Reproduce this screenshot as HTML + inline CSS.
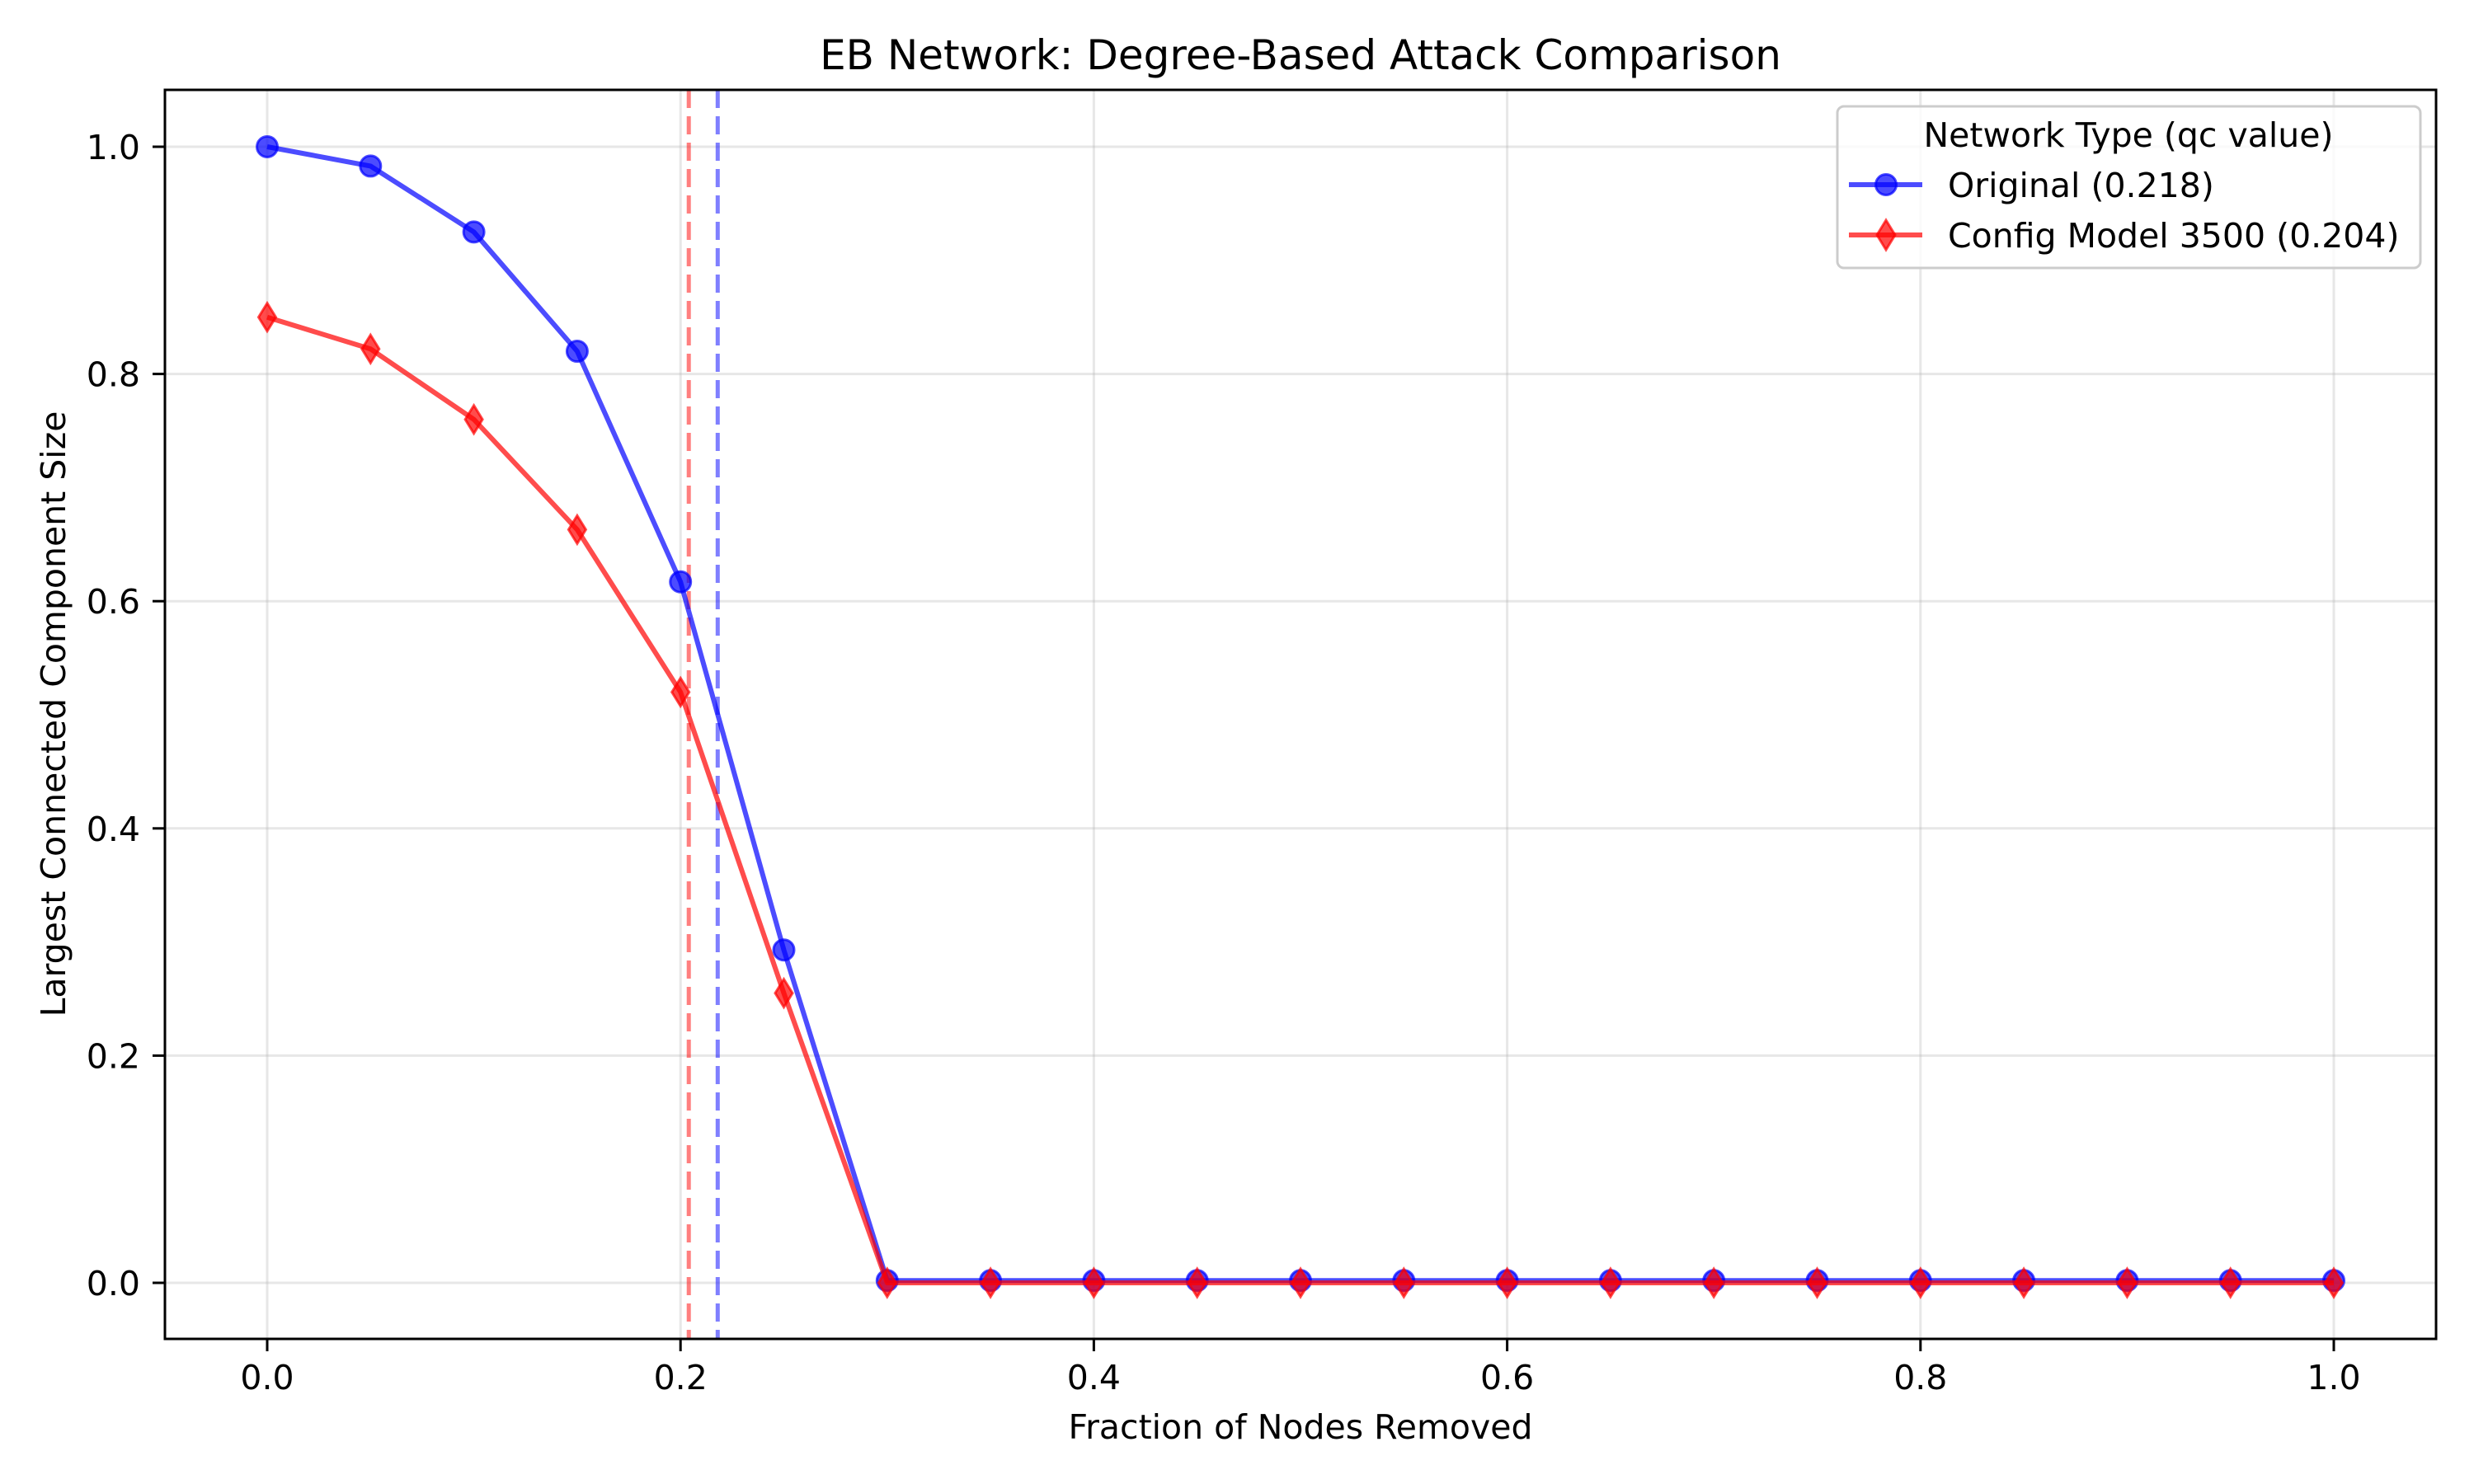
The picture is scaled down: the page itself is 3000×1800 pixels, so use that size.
<!DOCTYPE html>
<html><head><meta charset="utf-8">
<style>
html,body{margin:0;padding:0;background:#fff;}
svg{display:block;font-family:"DejaVu Sans","Liberation Sans",sans-serif;}
</style></head>
<body>
<svg id="chart" width="3000" height="1800" viewBox="0 0 3000 1800" xmlns="http://www.w3.org/2000/svg">
<rect width="3000" height="1800" fill="#fff"/>
<g id="grid"></g>
<g id="vlines"></g>
<g id="series"></g>
<rect x="200" y="109" width="2754" height="1515" fill="none" stroke="#000" stroke-width="3"/>
<g id="ticks"></g>
<text x="1577" y="84" font-size="50" text-anchor="middle">EB Network: Degree-Based Attack Comparison</text>
<text x="1577" y="1745" font-size="41" text-anchor="middle">Fraction of Nodes Removed</text>
<text x="0" y="0" font-size="41" text-anchor="middle" transform="translate(79,866) rotate(-90)">Largest Connected Component Size</text>
<g id="legend">
<rect x="2228" y="129" width="707" height="196" rx="8" fill="#fff" fill-opacity="0.8" stroke="#ccc" stroke-width="3"/>
<text x="2581" y="178" font-size="41" text-anchor="middle">Network Type (qc value)</text>
<g>
<line x1="2242" y1="224" x2="2331" y2="224" stroke="#0000ff" stroke-opacity="0.7" stroke-width="6"/>
<circle cx="2287" cy="224" r="12.5" fill="#0000ff" fill-opacity="0.7" stroke="#0000ff" stroke-opacity="0.7" stroke-width="3"/>
<text x="2362" y="239" font-size="41">Original (0.218)</text>
</g>
<g>
<line x1="2242" y1="285" x2="2331" y2="285" stroke="#ff0000" stroke-opacity="0.7" stroke-width="6"/>
<polygon points="2287,267 2298,285 2287,303 2276,285" fill="#ff0000" fill-opacity="0.7" stroke="#ff0000" stroke-opacity="0.7" stroke-width="3"/>
<text x="2362" y="300" font-size="41">Config Model 3500 (0.204)</text>
</g>
</g>
</svg>
<script>
const xValues = [0,0.05,0.1,0.15,0.2,0.25,0.3,0.35,0.4,0.45,0.5,0.55,0.6,0.65,0.7,0.75,0.8,0.85,0.9,0.95,1.0];
const originalValues = [1.0,0.983,0.925,0.82,0.617,0.293,0.002,0.002,0.002,0.002,0.002,0.002,0.002,0.002,0.002,0.002,0.002,0.002,0.002,0.002,0.002];
const configValues = [0.85,0.822,0.76,0.663,0.52,0.255,0,0,0,0,0,0,0,0,0,0,0,0,0,0,0];
const qcValues = [0.218,0.204];
const xTicks = [0,0.2,0.4,0.6,0.8,1.0];
const xTickLabels = ["0.0","0.2","0.4","0.6","0.8","1.0"];
const yTicks = [0,0.2,0.4,0.6,0.8,1.0];
const yTickLabels = ["0.0","0.2","0.4","0.6","0.8","1.0"];

const NS="http://www.w3.org/2000/svg";
function X(v){return 324+v*2506;}
function Y(v){return 1556-v*1378;}
function mk(tag,attrs,parent){const e=document.createElementNS(NS,tag);for(const k in attrs)e.setAttribute(k,attrs[k]);parent.appendChild(e);return e;}
const grid=document.getElementById('grid'),ticks=document.getElementById('ticks'),series=document.getElementById('series'),vl=document.getElementById('vlines');
xTicks.forEach((t,i)=>{
  const g=mk('line',{x1:X(t),x2:X(t),y1:109,y2:1624,stroke:'#b0b0b0','stroke-opacity':0.3,'stroke-width':3},grid);
  
  
  const tk=mk('line',{x1:X(t),x2:X(t),y1:1624,y2:1639,stroke:'#000','stroke-width':3},ticks);
  
  
  const tx=mk('text',{x:X(t),y:1685,'font-size':41,'text-anchor':'middle'},ticks);
  tx.textContent=xTickLabels[i];
  
  
});
yTicks.forEach((t,i)=>{
  const g=mk('line',{x1:200,x2:2954,y1:Y(t),y2:Y(t),stroke:'#b0b0b0','stroke-opacity':0.3,'stroke-width':3},grid);
  
  
  const tk=mk('line',{x1:185,x2:200,y1:Y(t),y2:Y(t),stroke:'#000','stroke-width':3},ticks);
  
  
  const tx=mk('text',{x:170,y:Y(t)+15,'font-size':41,'text-anchor':'end'},ticks);
  tx.textContent=yTickLabels[i];
  
  
});
const qcColors=['#0000ff','#ff0000'];
qcValues.forEach((q,i)=>{
  const l=mk('line',{x1:X(q),x2:X(q),y1:109,y2:1624,stroke:qcColors[i],'stroke-opacity':0.5,'stroke-width':5,'stroke-dasharray':'22 10'},vl);
  
  
});
function drawSeries(vals,color,shape,name){
  const pts=vals.map((v,i)=>X(xValues[i])+','+Y(v)).join(' ');
  const pl=mk('polyline',{points:pts,fill:'none',stroke:color,'stroke-opacity':0.7,'stroke-width':6,'stroke-linejoin':'round'},series);
  
  
  vals.forEach((v,i)=>{
    const cx=X(xValues[i]),cy=Y(v);
    let m;
    if(shape==='circle') m=mk('circle',{cx:cx,cy:cy,r:12.5,fill:color,'fill-opacity':0.7,stroke:color,'stroke-opacity':0.7,'stroke-width':3},series);
    else m=mk('polygon',{points:`${cx},${cy-17} ${cx+10.5},${cy} ${cx},${cy+17} ${cx-10.5},${cy}`,fill:color,'fill-opacity':0.7,stroke:color,'stroke-opacity':0.7,'stroke-width':3},series);
    
    
  });
}
drawSeries(originalValues,'#0000ff','circle','original');
drawSeries(configValues,'#ff0000','diamond','config-model');
</script>
</body></html>
